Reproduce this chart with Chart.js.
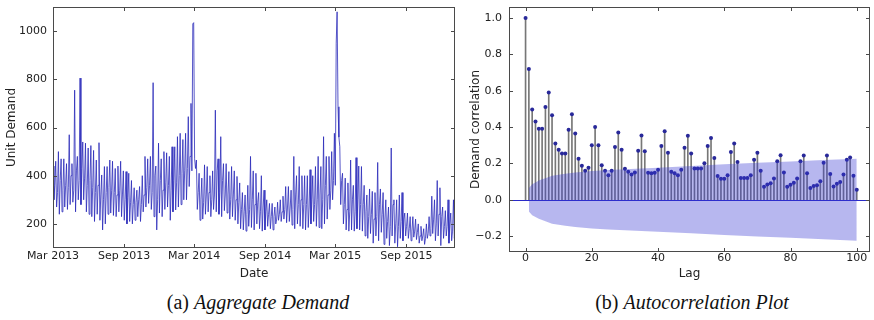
<!DOCTYPE html>
<html>
<head>
<meta charset="utf-8">
<title>Demand and autocorrelation</title>
<script src="https://cdn.jsdelivr.net/npm/chart.js@4.4.1/dist/chart.umd.min.js"></script>
<style>
  html, body { margin: 0; padding: 0; background: #fff; }
  body { width: 874px; height: 320px; position: relative; overflow: hidden; }
  canvas { position: absolute; top: 0; }
  #demandChart { left: 0; }
  #acfChart { left: 460px; }
  .caption {
    position: absolute; top: 291px; line-height: 22px;
    font-family: 'Liberation Serif', 'Times New Roman', serif; font-size: 20px;
    color: #111; transform: translateX(-50%); white-space: nowrap;
  }
</style>
</head>
<body>
<canvas id="demandChart" width="460" height="285"></canvas>
<canvas id="acfChart" width="414" height="285"></canvas>
<div class="caption" style="left:258px">(a) <i>Aggregate Demand</i></div>
<div class="caption" style="left:692px">(b) <i>Autocorrelation Plot</i></div>
<script>
// weekly high, low and typical day of the daily unit demand, Mar 2013 - Dec 2015
const weeklyPeak = [
  440, 460, 500, 470, 470, 450, 570, 450, 755, 480, 805, 540, 535, 515, 525, 505, 465, 537, 403, 438,
  438, 465, 460, 430, 440, 460, 420, 417, 410, 380, 350, 340, 355, 400, 480, 470, 480, 786,
  440, 535, 470, 500, 495, 480, 520, 520, 562, 576, 550, 576, 645, 700, 1035,
  465, 410, 390, 445, 438, 400, 420, 672, 470, 562, 450, 450, 417, 438, 420, 397, 370, 330, 320, 360,
  480, 420, 410, 330, 400, 340, 300, 285, 285, 270, 290, 300, 315, 355, 355, 340, 480, 400, 438, 400,
  400, 400, 425, 400, 438, 480, 438, 562, 480,
  480, 500, 576, 1080, 520, 410, 390, 370, 465, 360, 475, 440,
  438, 360, 320, 345, 335, 330, 455, 345, 330, 300, 270, 515, 300, 300, 320, 330, 245, 245, 230, 230,
  220, 200, 190, 180, 200, 230, 315, 300, 380, 350, 270, 255, 300, 245, 300
];
const weeklyLow = [
  300, 270, 240, 250, 270, 260, 280, 290, 250, 300, 280, 300, 250, 240, 230, 210, 240, 215, 175, 200,
  240, 245, 235, 230, 250, 230, 215, 200, 210, 200, 215, 230, 210, 250, 270, 285, 260, 230,
  175, 245, 230, 260, 270, 215, 250, 258, 270, 280, 300, 300, 355, 420, 470,
  260, 215, 220, 240, 250, 230, 260, 250, 240, 230, 255, 245, 220, 230, 215, 200, 180, 175, 170, 190,
  185, 175, 200, 180, 170, 175, 190, 180, 175, 200, 215, 210, 220, 205, 210, 195, 180, 200, 190, 180,
  175, 185, 200, 210, 190, 185, 180, 200, 220,
  260, 300, 360, 686, 280, 200, 175, 170, 175, 170, 180, 175,
  170, 150, 140, 160, 120, 150, 130, 165, 115, 140, 110, 150, 120, 105, 140, 130, 150, 140, 130, 145,
  135, 120, 130, 115, 140, 150, 160, 130, 150, 110, 140, 150, 120, 130, 140
];
const weeklyMid = [
  360, 330, 380, 340, 360, 350, 400, 340, 420, 380, 430, 390, 360, 380, 350, 330, 360, 320, 300, 330,
  350, 340, 330, 320, 340, 320, 300, 310, 290, 280, 290, 300, 280, 320, 350, 360, 330, 400,
  300, 380, 340, 370, 360, 340, 380, 370, 400, 410, 420, 430, 480, 1030, 430,
  330, 300, 290, 320, 330, 300, 320, 420, 330, 380, 320, 320, 300, 320, 300, 290, 260, 250, 240, 260,
  300, 280, 290, 250, 270, 250, 240, 230, 230, 220, 240, 250, 260, 270, 270, 260, 320, 280, 300, 280,
  280, 270, 300, 280, 300, 320, 300, 360, 320,
  340, 380, 950, 560, 380, 280, 260, 250, 300, 250, 300, 280,
  280, 250, 230, 240, 220, 230, 280, 240, 220, 210, 190, 280, 200, 190, 210, 220, 190, 180, 170, 170,
  165, 150, 150, 140, 160, 180, 220, 200, 240, 230, 190, 190, 200, 170, 190
];
const daysPerPoint = 7 / 3;
const dateTicks = [0, 184, 365, 549, 730, 914];   // days since 1 Mar 2013
const dateLabels = ['Mar 2013', 'Sep 2013', 'Mar 2014', 'Sep 2014', 'Mar 2015', 'Sep 2015'];
const demandTicks = [200, 400, 600, 800, 1000];

// autocorrelation for lags 0..100
const acf = [
  1.0, 0.72, 0.496, 0.43, 0.39, 0.39, 0.51, 0.59, 0.465, 0.31,
  0.275, 0.255, 0.255, 0.385, 0.47, 0.365, 0.225, 0.187, 0.16, 0.176,
  0.30, 0.40, 0.30, 0.19, 0.16, 0.135, 0.16, 0.29, 0.37, 0.275,
  0.17, 0.154, 0.139, 0.15, 0.27, 0.353, 0.267, 0.148, 0.145, 0.148,
  0.165, 0.296, 0.377, 0.258, 0.154, 0.145, 0.134, 0.165, 0.286, 0.352,
  0.254, 0.172, 0.172, 0.172, 0.20, 0.295, 0.34, 0.23, 0.13, 0.115,
  0.115, 0.135, 0.262, 0.31, 0.207, 0.119, 0.119, 0.119, 0.134, 0.22,
  0.258, 0.16, 0.071, 0.084, 0.09, 0.117, 0.212, 0.245, 0.15, 0.071,
  0.082, 0.093, 0.117, 0.212, 0.243, 0.145, 0.064, 0.075, 0.079, 0.102,
  0.203, 0.243, 0.141, 0.073, 0.088, 0.097, 0.139, 0.22, 0.232, 0.132,
  0.055
];
// half width of the 95% confidence band
const bandLags = [1, 2, 3, 4, 5, 6, 7, 8, 10, 12, 15, 20, 25, 30, 40, 50, 60, 70, 80, 90, 100];
const bandWidth = [0.065, 0.085, 0.095, 0.105, 0.112, 0.118, 0.125, 0.132, 0.138, 0.143, 0.15,
  0.158, 0.164, 0.168, 0.176, 0.185, 0.195, 0.203, 0.21, 0.218, 0.226];
const lagTicks = [0, 20, 40, 60, 80, 100];
const corrTicks = [-0.2, 0, 0.2, 0.4, 0.6, 0.8, 1.0];

Chart.defaults.font.family = "'DejaVu Sans', sans-serif";

const TEXT = '#222';
const FRAME = '#4a4a4a';

// box around the plot with short inward ticks on all four sides
const frameTicks = {
  id: 'frameTicks',
  afterDraw(chart) {
    const { ctx, chartArea: a, scales: { x, y } } = chart;
    ctx.save();
    ctx.strokeStyle = FRAME;
    ctx.lineWidth = 1;
    ctx.beginPath();
    x.ticks.forEach(t => {
      const px = Math.round(x.getPixelForValue(t.value)) + 0.5;
      ctx.moveTo(px, a.bottom); ctx.lineTo(px, a.bottom - 4);
      ctx.moveTo(px, a.top); ctx.lineTo(px, a.top + 4);
    });
    y.ticks.forEach(t => {
      const py = Math.round(y.getPixelForValue(t.value)) + 0.5;
      ctx.moveTo(a.left, py); ctx.lineTo(a.left + 4, py);
      ctx.moveTo(a.right, py); ctx.lineTo(a.right - 4, py);
    });
    ctx.stroke();
    ctx.strokeRect(Math.round(a.left) + 0.5, Math.round(a.top) + 0.5,
      Math.round(a.width) - 1, Math.round(a.height) - 1);
    ctx.restore();
  }
};

// horizontal line at zero correlation
const zeroLine = {
  id: 'zeroLine',
  beforeDatasetsDraw(chart) {
    const { ctx, chartArea: a, scales: { y } } = chart;
    const py = Math.round(y.getPixelForValue(0)) + 0.5;
    ctx.save();
    ctx.strokeStyle = '#2a2ac8';
    ctx.lineWidth = 1;
    ctx.beginPath();
    ctx.moveTo(a.left, py);
    ctx.lineTo(a.right, py);
    ctx.stroke();
    ctx.restore();
  }
};

function axisBase(extra) {
  return Object.assign({
    type: 'linear',
    offset: false,
    grid: { display: false, drawTicks: false },
    border: { display: false }
  }, extra);
}

// fixed axis box sizes; the top/bottom label overhang is not reserved
function fitWidth(w) {
  return s => { s.width = w; s.paddingTop = 0; s.paddingBottom = 0; };
}
function fitHeight(h) {
  return s => { s.height = h; s.paddingLeft = 0; s.paddingRight = 0; };
}

const demand = [];
weeklyPeak.forEach((p, w) => demand.push(p, weeklyLow[w], weeklyMid[w]));

new Chart(document.getElementById('demandChart'), {
  type: 'line',
  data: {
    datasets: [{
      data: demand.map((v, i) => ({ x: i * daysPerPoint, y: v })),
      borderColor: 'rgba(40, 40, 185, 0.78)',
      borderWidth: 1,
      pointRadius: 0,
      tension: 0
    }]
  },
  options: {
    responsive: false,
    animation: false,
    devicePixelRatio: 1,
    layout: { padding: { top: 7, right: 5, left: 0, bottom: 0 } },
    plugins: { legend: { display: false }, tooltip: { enabled: false } },
    scales: {
      x: axisBase({
        min: 0, max: 1040,
        afterBuildTicks: s => { s.ticks = dateTicks.map(v => ({ value: v })); },
        afterFit: fitHeight(37),
        ticks: {
          autoSkip: false, maxRotation: 0, padding: 2, color: TEXT, font: { size: 11 },
          callback: v => dateLabels[dateTicks.indexOf(v)]
        },
        title: { display: true, text: 'Date', color: TEXT, font: { size: 12 }, padding: { top: 0, bottom: 4 } }
      }),
      y: axisBase({
        min: 100, max: 1100,
        afterBuildTicks: s => { s.ticks = demandTicks.map(v => ({ value: v })); },
        afterFit: fitWidth(53),
        ticks: { padding: 6, color: TEXT, font: { size: 11 }, callback: v => String(v) },
        title: { display: true, text: 'Unit Demand', color: TEXT, font: { size: 12 }, padding: { top: 5, bottom: 0 } }
      })
    }
  },
  plugins: [frameTicks]
});

const lags = acf.map((v, i) => i);

new Chart(document.getElementById('acfChart'), {
  type: 'line',
  data: {
    datasets: [
      {
        // confidence band, upper edge filled down to the lower edge
        data: bandLags.map((l, i) => ({ x: l, y: bandWidth[i] })),
        borderWidth: 0,
        pointRadius: 0,
        backgroundColor: 'rgba(55, 55, 210, 0.36)',
        fill: '+1',
        order: 0
      },
      {
        data: bandLags.map((l, i) => ({ x: l, y: -bandWidth[i] })),
        borderWidth: 0,
        pointRadius: 0,
        fill: false,
        order: 0
      },
      {
        type: 'bar',
        data: lags.map(l => ({ x: l, y: acf[l] })),
        backgroundColor: '#777',
        barThickness: 1,
        order: 3
      },
      {
        data: lags.map(l => ({ x: l, y: acf[l] })),
        showLine: false,
        pointRadius: 2,
        pointBorderWidth: 0,
        pointBackgroundColor: '#28289a',
        order: 2
      }
    ]
  },
  options: {
    responsive: false,
    animation: false,
    devicePixelRatio: 1,
    layout: { padding: { top: 7, right: 1, left: 0, bottom: 0 } },
    plugins: { legend: { display: false }, tooltip: { enabled: false } },
    scales: {
      x: axisBase({
        min: -5, max: 104,
        afterBuildTicks: s => { s.ticks = lagTicks.map(v => ({ value: v })); },
        afterFit: fitHeight(33),
        ticks: { autoSkip: false, maxRotation: 0, padding: 0, color: TEXT, font: { size: 11 } },
        title: { display: true, text: 'Lag', color: TEXT, font: { size: 12 }, padding: { top: 0, bottom: 4 } }
      }),
      y: axisBase({
        min: -0.288, max: 1.061,
        afterBuildTicks: s => { s.ticks = corrTicks.map(v => ({ value: v })); },
        afterFit: fitWidth(49),
        ticks: {
          padding: 7, color: TEXT, font: { size: 11 },
          callback: v => (v < 0 ? '\u2212' : '') + Math.abs(v).toFixed(1)
        },
        title: { display: true, text: 'Demand correlation', color: TEXT, font: { size: 12 }, padding: { top: 9, bottom: 0 } }
      })
    }
  },
  plugins: [zeroLine, frameTicks]
});
</script>
</body>
</html>
